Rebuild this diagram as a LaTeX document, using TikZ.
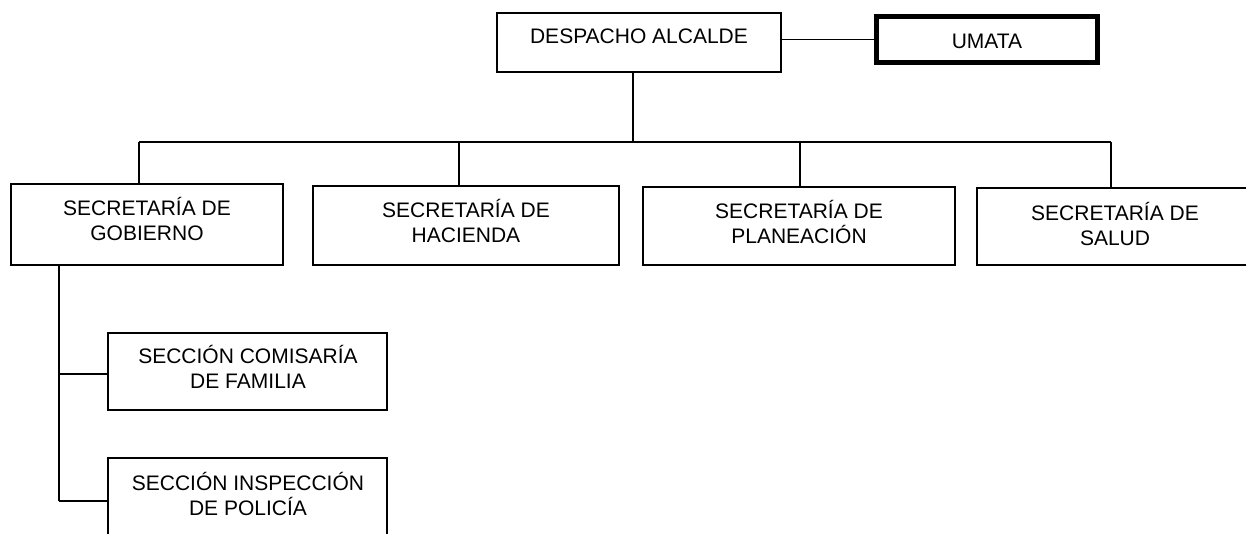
\documentclass[tikz,border=0pt]{standalone}
\usepackage{fontspec}
\setmainfont{Liberation Sans}
\begin{document}
\begin{tikzpicture}[x=1pt,y=-1pt,
  box/.style={draw, line width=1.6pt, inner sep=0pt, outer sep=0pt, anchor=north west},
  thickbox/.style={draw, line width=5pt, inner sep=0pt, outer sep=0pt, anchor=north west},
  txt/.style={anchor=base, inner sep=0pt, font=\fontsize{21}{25}\selectfont},
  conn/.style={line width=1.6pt}]
\useasboundingbox (0,0) rectangle (1246,533);
\clip (0,0) rectangle (1246,533);
% boxes
\node[box, minimum width=284pt, minimum height=59pt] (desp) at (497,13) {};
\node[thickbox, minimum width=221pt, minimum height=46pt] (umata) at (876.5,16.5) {};
\node[box, minimum width=272pt, minimum height=81pt] (gob) at (11,184) {};
\node[box, minimum width=306pt, minimum height=79pt] (hac) at (313,186) {};
\node[box, minimum width=312pt, minimum height=78pt] (plan) at (643,187) {};
\node[box, minimum width=276pt, minimum height=77pt] (sal) at (977,188) {};
\node[box, minimum width=279pt, minimum height=77pt] (com) at (108,333) {};
\node[box, minimum width=279pt, minimum height=90pt] (insp) at (108,458) {};
% texts
\node[txt] (tdesp) at (639,43) {DESPACHO ALCALDE};
\node[txt] (tumata) at (987,48) {UMATA};
\node[txt] (tgob) at (147,215) {\begin{tabular}[t]{@{}c@{}}SECRETARÍA DE\\GOBIERNO\end{tabular}};
\node[txt] (thac) at (466,217) {\begin{tabular}[t]{@{}c@{}}SECRETARÍA DE\\HACIENDA\end{tabular}};
\node[txt] (tplan) at (799,218) {\begin{tabular}[t]{@{}c@{}}SECRETARÍA DE\\PLANEACIÓN\end{tabular}};
\node[txt] (tsal) at (1115,220) {\begin{tabular}[t]{@{}c@{}}SECRETARÍA DE\\SALUD\end{tabular}};
\node[txt] (tcom) at (248,363) {\begin{tabular}[t]{@{}c@{}}SECCIÓN COMISARÍA\\DE FAMILIA\end{tabular}};
\node[txt] (tinsp) at (248,490) {\begin{tabular}[t]{@{}c@{}}SECCIÓN INSPECCIÓN\\DE POLICÍA\end{tabular}};
% bus coordinates
\coordinate (bus) at (633,142);
\coordinate (busG) at (139,142);
\coordinate (busH) at (459,142);
\coordinate (busP) at (800,142);
\coordinate (busS) at (1111,142);
\coordinate (g1) at (59,374);
\coordinate (g2) at (59,501);
% connectors
\draw[conn] (desp.east |- umata.west) -- (umata.west);
\draw[conn] (desp.south -| bus) -- (bus);
\draw[conn] (busG) -- (busS);
\draw[conn] (busG) -- (busG |- gob.north);
\draw[conn] (busH) -- (busH |- hac.north);
\draw[conn] (busP) -- (busP |- plan.north);
\draw[conn] (busS) -- (busS |- sal.north);
\draw[conn] (gob.south -| g1) -- (g2);
\draw[conn] (g1) -- (g1 -| com.west);
\draw[conn] (g2) -- (g2 -| insp.west);
\end{tikzpicture}
\end{document}
